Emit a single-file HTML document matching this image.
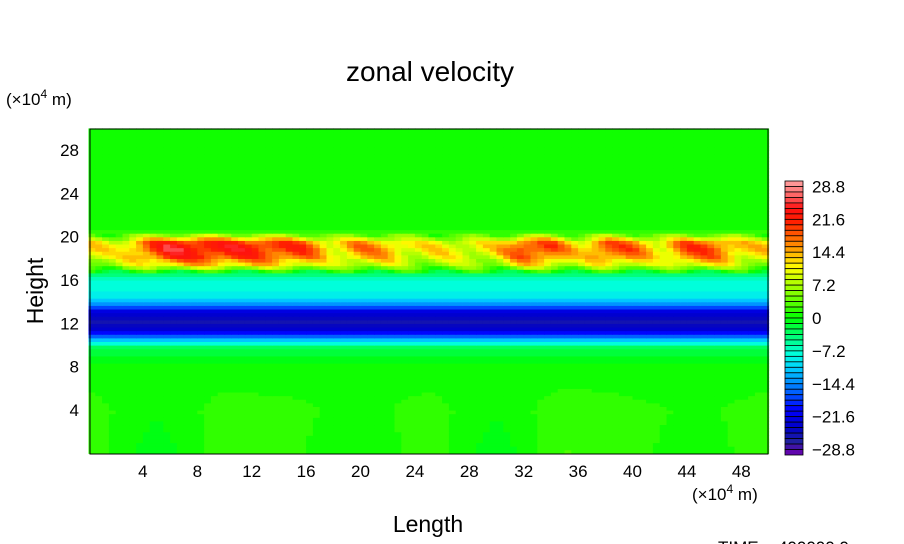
<!DOCTYPE html>
<html><head><meta charset="utf-8">
<style>
body{margin:0;background:#fff;}
svg{display:block;font-family:"Liberation Sans",sans-serif;}
</style></head>
<body>
<svg id="chart" width="904" height="544">
<text x="430" y="81" font-size="28" text-anchor="middle">zonal velocity</text>
<text x="6" y="105" font-size="17">(×10<tspan dy="-7" font-size="12">4</tspan><tspan dy="7"> m)</tspan></text>
<text x="692" y="500" font-size="17">(×10<tspan dy="-7" font-size="12">4</tspan><tspan dy="7"> m)</tspan></text>
<text x="428" y="532" font-size="23" text-anchor="middle">Length</text>
<text transform="translate(43,291) rotate(-90)" font-size="23" text-anchor="middle">Height</text>
<text x="718" y="553" font-size="17">TIME = 400000.0</text>
<g id="heat"></g>
<rect x="90" y="129" width="678" height="325" fill="none" stroke="#000" stroke-width="1"/>
<g id="xt"></g>
<g id="yt"></g>
<g id="cbar"></g>
</svg>
<script>
const xTicks=[4,8,12,16,20,24,28,32,36,40,44,48];
const yTicks=[4,8,12,16,20,24,28];
const cbarLabels=["28.8","21.6","14.4","7.2","0","\u22127.2","\u221214.4","\u221221.6","\u221228.8"];
const cbarValues=[28.8,21.6,14.4,7.2,0,-7.2,-14.4,-21.6,-28.8];
// vertical profile of zonal velocity (height in 10^4 m, value m/s)
const profH=[0,4,8,9,9.8,10.3,10.8,11.4,12.3,13.2,13.8,14.4,15.5,16.4,16.9,17.4,18.2,19.0,19.6,20.0,20.6,25,30];
const profV=[1.5,1.5,0.5,-1,-3,-9,-16,-23,-26,-22,-14,-9,-8,-6,1,8,13,15,13,6,1,1,0.5];
// jet-strength modulation along length (x = 0,2,...,50)
const jetX=[0,2,4,6,8,10,12,14,16,18,20,22,24,26,28,30,32,34,36,38,40,42,44,46,48,50];
const jetAmp=[0.8,0.7,1.2,1.6,1.6,1.5,1.5,1.4,1.3,0.8,1.1,1.0,0.7,0.8,0.7,0.8,1.4,1.3,0.8,1.3,1.2,0.8,1.3,1.3,0.9,0.8];
// low-level perturbations (x = 0,5,...,50)
const lowX=[0,5,10,15,20,25,30,35,40,45,50];
const lowAmp=[0.5,-2.5,0.5,0,-1.5,0.5,-2.5,1,0,-1,0.5];

const X0=88.5,XS=13.6,Y0=453.3,YS=10.83;
const sx=v=>X0+v*XS, sy=v=>Y0-v*YS;
function interp(xs,ys,v){if(v<=xs[0])return ys[0];for(let i=1;i<xs.length;i++){if(v<=xs[i]){const t=(v-xs[i-1])/(xs[i]-xs[i-1]);return ys[i-1]+t*(ys[i]-ys[i-1]);}}return ys[ys.length-1];}
const stops=[[-30,[112,0,176]],[-27,[32,32,160]],[-24,[0,0,200]],[-20,[0,0,255]],[-17,[0,80,255]],[-14,[0,144,255]],[-11,[0,208,255]],[-8,[0,255,224]],[-5,[0,255,144]],[-2,[0,255,64]],[0,[0,255,0]],[3,[80,255,0]],[6,[144,255,0]],[9,[208,255,0]],[11,[255,255,0]],[13,[255,208,0]],[15,[255,160,0]],[18,[255,96,0]],[21,[255,32,0]],[24,[255,16,16]],[26,[255,80,80]],[29,[255,150,150]],[31,[255,150,150]]];
function col(v){v=Math.max(-30,Math.min(29.9,v));v=-30+Math.floor((v+30)/1.2)*1.2+0.6;
 for(let i=1;i<stops.length;i++){if(v<=stops[i][0]){const a=stops[i-1],b=stops[i],t=(v-a[0])/(b[0]-a[0]);return 'rgb('+a[1].map((c,k)=>Math.round(c+t*(b[1][k]-c))).join(',')+')';}}return 'rgb(255,150,150)';}
const NS='http://www.w3.org/2000/svg';
const heat=document.getElementById('heat');
const nx=100,ny=90;
for(let j=0;j<ny;j++){for(let i=0;i<nx;i++){
 const x=(i+0.5)*50/nx,h=(j+0.5)*30/ny;
 let v=interp(profH,profV,h);
 if(h>16.8&&h<20.2){v=v*interp(jetX,jetAmp,x)+3*Math.sin(x*1.3+h*2);}
 if(h<8){v+=interp(lowX,lowAmp,x)*(1-h/8);}
 const r=document.createElementNS(NS,'rect');
 
 
 const x1=sx(i*50/nx),x2=sx((i+1)*50/nx),y1=sy((j+1)*30/ny),y2=sy(j*30/ny);
 r.setAttribute('x',x1.toFixed(2));r.setAttribute('y',y1.toFixed(2));
 r.setAttribute('width',(x2-x1+0.6).toFixed(2));r.setAttribute('height',(y2-y1+0.6).toFixed(2));
 r.setAttribute('fill',col(v));heat.appendChild(r);}}
const xt=document.getElementById('xt');
xTicks.forEach(t=>{const e=document.createElementNS(NS,'text');
 
 
 e.setAttribute('x',sx(t));e.setAttribute('y',477);e.setAttribute('font-size','17');e.setAttribute('text-anchor','middle');e.textContent=t;xt.appendChild(e);});
const yt=document.getElementById('yt');
yTicks.forEach(t=>{const e=document.createElementNS(NS,'text');
 
 
 e.setAttribute('x',79);e.setAttribute('y',sy(t)+6);e.setAttribute('font-size','17');e.setAttribute('text-anchor','end');e.textContent=t;yt.appendChild(e);});
const cb=document.getElementById('cbar');
const cbTop=181,cbBot=455,n=50,bh=(cbBot-cbTop)/n;
for(let k=0;k<n;k++){const v=30-(k+0.5)*1.2;const r=document.createElementNS(NS,'rect');
 
 
 r.setAttribute('x',785);r.setAttribute('y',(cbTop+k*bh).toFixed(2));r.setAttribute('width',18);r.setAttribute('height',bh.toFixed(2));
 r.setAttribute('fill',col(v));r.setAttribute('stroke','#000');r.setAttribute('stroke-width','0.8');cb.appendChild(r);}
const cy=v=>cbTop+(30-v)/60*(cbBot-cbTop);
cbarValues.forEach((v,k)=>{const e=document.createElementNS(NS,'text');
 
 
 e.setAttribute('x',812);e.setAttribute('y',(cy(v)+6).toFixed(1));e.setAttribute('font-size','17');e.textContent=cbarLabels[k];cb.appendChild(e);});
</script>
</body></html>
